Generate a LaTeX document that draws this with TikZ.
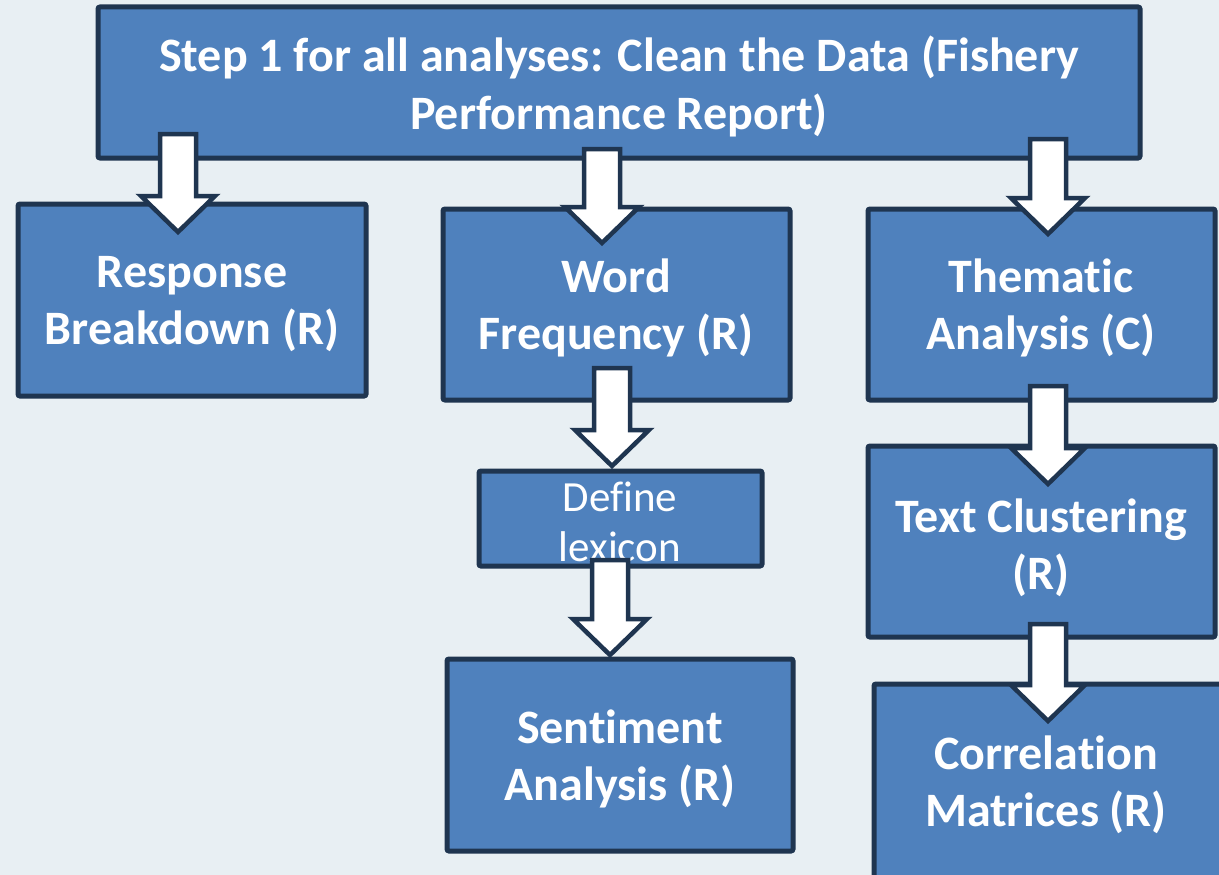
\documentclass[tikz,border=0pt]{standalone}
\usepackage{fontspec}
\setmainfont{Carlito}[Ligatures=NoCommon]
\definecolor{bg}{RGB}{232,239,243}
\definecolor{boxfill}{RGB}{79,129,189}
\definecolor{boxline}{RGB}{31,53,80}
\tikzset{
  box/.style={draw=boxline, line width=5pt, fill=boxfill, rounded corners=2pt, text=white},
  boxtext/.style={text=white, align=center, font=\bfseries\fontsize{48}{57}\selectfont},
  blockarrow/.style={draw=boxline, line width=4.5pt, fill=white, line join=miter}
}
\newcommand\blockarr[3]{% x, ytop, ytip
  \draw[blockarrow] ({#1-18},#2) -- ({#1+18},#2) -- ({#1+18},{#3-36}) -- ({#1+37},{#3-36}) -- (#1,#3) -- ({#1-37},{#3-36}) -- ({#1-18},{#3-36}) -- cycle;}
\begin{document}
\begin{tikzpicture}[x=1pt,y=-1pt]
\useasboundingbox (0,0) rectangle (1219,875);
\clip (0,0) rectangle (1219,875);
\fill[bg] (0,0) rectangle (1219,875);
% boxes
\draw[box] (98,7) rectangle (1140,158);
\node[boxtext, font=\bfseries\fontsize{48}{58}\selectfont] (top) at (619,86) {Step 1 for all analyses: Clean the Data (Fishery\\Performance Report)};
\draw[box] (18,204) rectangle (366,396);
\node[boxtext] (resp) at (192,304) {Response\\Breakdown (R)};
\draw[box] (443,209) rectangle (790,400);
\node[boxtext] (word) at (616,308) {Word\\Frequency (R)};
\draw[box] (868,209) rectangle (1215,400);
\node[boxtext] (them) at (1041,308) {Thematic\\Analysis (C)};
\draw[box] (479,471) rectangle (762,566);
\node[text=white, align=center, font=\fontsize{43}{50}\selectfont] (lex) at (620,522) {Define\\lexicon};
\draw[box] (868,446) rectangle (1215,637);
\node[boxtext] (clus) at (1041,548) {Text Clustering\\(R)};
\draw[box] (447,659) rectangle (793,851);
\node[boxtext] (sent) at (620,759) {Sentiment\\Analysis (R)};
\draw[box] (874,684) rectangle (1240,900);
\node[boxtext] (corr) at (1046,785) {Correlation\\Matrices (R)};
% arrows
\blockarr{178}{134}{232}
\blockarr{602}{149}{243}
\blockarr{1048}{139}{234}
\blockarr{612}{368}{466}
\blockarr{610}{560}{655}
\blockarr{1048}{386}{484}
\blockarr{1048}{624}{721}
\end{tikzpicture}
\end{document}
